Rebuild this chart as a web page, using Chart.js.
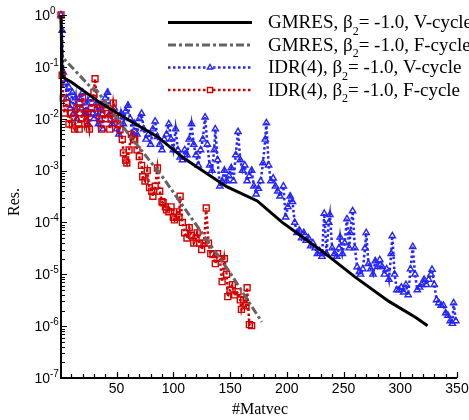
<!DOCTYPE html>
<html lang="en">
<head>
<meta charset="UTF-8">
<title>Residual history</title>
<script src="https://cdn.jsdelivr.net/npm/chart.js"></script>
<style>
  html, body { margin: 0; padding: 0; background: #fff; }
  #wrap { width: 469px; height: 420px; }
</style>
</head>
<body>
<div id="wrap"><canvas id="resChart" width="469" height="420"></canvas></div>
<script>
// legend text parts
const solverNames = ['GMRES', 'GMRES', 'IDR(4)', 'IDR(4)'];
const cycleNames = ['V-cycle', 'F-cycle', 'V-cycle', 'F-cycle'];
const beta2 = '-1.0';

// tick labels
const xTickLabels = [50, 100, 150, 200, 250, 300, 350];
const yTickExps = [0, -1, -2, -3, -4, -5, -6, -7];

// GMRES, V-cycle
const gmresVX = [1, 2, 10, 36, 65, 86, 109, 147, 174, 196, 205, 232, 260, 290, 314, 324];
const gmresVY = [1, 6.4e-2, 5.1e-2, 2.0e-2, 8.3e-3, 4.5e-3, 1.74e-3, 4.9e-4, 2.6e-4, 1.0e-4, 7.2e-5, 2.7e-5, 8.9e-6, 3.0e-6, 1.45e-6, 1.02e-6];

// GMRES, F-cycle
const gmresFX = [1, 2, 27, 33, 60, 90, 120, 150, 178];
const gmresFY = [1, 0.155, 4.1e-2, 3.4e-2, 5.2e-3, 7.8e-4, 9.1e-5, 1.07e-5, 1.2e-6];

// IDR(4), V-cycle
const idrVX = [1, 2, 3, 5, 6, 8, 9, 11, 12, 14, 15, 17, 19, 20, 22, 24, 25, 27, 29, 30,
  32, 34, 36, 38, 40, 42, 44, 46, 48, 50, 52, 54, 56, 58, 60, 62, 64, 66, 68, 70,
  72, 74, 76, 78, 80, 82, 84, 86, 88, 90, 92, 94, 96, 98, 100, 102, 104, 106, 108, 110,
  112, 114, 116, 118, 120, 122, 124, 126, 128, 130, 132, 134, 136, 137, 139, 141, 143, 145, 147, 149,
  151, 153, 155, 157, 159, 161, 163, 165, 167, 169, 171, 173, 175, 177, 179, 181, 182, 184, 186, 188,
  190, 192, 194, 197, 199, 201, 203, 205, 207, 209, 211, 213, 215, 217, 219, 221, 223, 225, 227, 229,
  231, 233, 235, 237, 238, 240, 242, 244, 246, 247, 249, 251, 253, 255, 256, 258, 260, 262, 264, 265,
  267, 269, 270, 272, 274, 276, 278, 280, 282, 284, 286, 288, 290, 292, 293, 295, 297, 299, 301, 303,
  305, 307, 309, 311, 313, 315, 317, 319, 321, 323, 325, 327, 328, 330, 332, 334, 336, 338, 340, 342,
  344, 346, 347, 349];
const idrVY = [1, 0.5, 7.9e-2, 5.0e-2, 2.5e-2, 4.0e-2, 1.6e-2, 3.2e-2, 1.26e-2, 2.5e-2, 1.0e-2, 2.5e-2, 1.6e-2, 3.2e-2, 1.26e-2, 2.0e-2, 7.9e-3, 2.5e-2, 1.26e-2, 1.0e-2,
  2.0e-2, 7.9e-3, 1.6e-2, 6.3e-3, 2.5e-2, 3.2e-2, 1.26e-2, 7.9e-3, 1.6e-2, 6.3e-3, 5.0e-3, 1.26e-2, 7.9e-3, 1.4e-2, 1.8e-2, 1.0e-2, 5.0e-3, 7.9e-3, 5.0e-3, 1.0e-2,
  1.26e-2, 6.3e-3, 4.0e-3, 5.0e-3, 3.2e-3, 6.3e-3, 8.9e-3, 4.5e-3, 3.2e-3, 2.5e-3, 4.0e-3, 5.0e-3, 7.9e-3, 4.0e-3, 2.5e-3, 6.3e-3, 2.5e-3, 1.8e-3, 1.6e-3, 2.5e-3,
  2.0e-3, 4.0e-3, 7.9e-3, 3.2e-3, 2.0e-3, 1.26e-3, 2.5e-3, 4.0e-3, 1.07e-2, 3.2e-3, 1.26e-3, 1.0e-3, 2.5e-3, 6.3e-3, 1.6e-3, 5.0e-4, 6.3e-4, 1.0e-3, 6.3e-4, 7.9e-4,
  1.12e-3, 6.3e-4, 2.0e-3, 5.6e-3, 1.6e-3, 1.0e-3, 1.26e-3, 6.3e-4, 7.9e-4, 1.0e-3, 5.0e-4, 3.5e-4, 4.5e-4, 6.3e-4, 1.4e-3, 4.0e-3, 8.3e-3, 1.26e-3, 6.3e-4, 7.1e-4,
  5.0e-4, 4.0e-4, 3.2e-4, 5.0e-4, 1.26e-4, 2.0e-4, 3.2e-4, 2.5e-4, 1.0e-4, 6.3e-5, 7.1e-5, 5.0e-5, 6.3e-5, 4.5e-5, 5.0e-5, 3.5e-5, 4.0e-5, 3.2e-5, 2.5e-5, 2.8e-5,
  2.2e-5, 1.48e-4, 2.5e-5, 1.0e-4, 1.41e-4, 3.2e-5, 2.5e-5, 2.2e-5, 3.2e-5, 5.2e-5, 2.5e-5, 4.0e-5, 1.17e-4, 3.2e-5, 6.3e-5, 1.66e-4, 3.2e-5, 1.38e-5, 1.12e-5, 1.0e-5,
  1.26e-5, 3.2e-5, 6.3e-5, 1.6e-5, 1.26e-5, 1.0e-5, 1.8e-5, 1.4e-5, 1.9e-5, 1.4e-5, 1.0e-5, 1.26e-5, 7.9e-6, 2.5e-5, 5.5e-5, 1.0e-5, 5.0e-6, 5.0e-6, 5.6e-6, 4.5e-6,
  6.3e-6, 4.0e-6, 1.26e-5, 3.4e-5, 1.0e-5, 5.0e-6, 5.6e-6, 6.3e-6, 7.9e-6, 6.3e-6, 7.9e-6, 1.0e-5, 1.23e-5, 6.3e-6, 3.2e-6, 2.8e-6, 2.5e-6, 2.5e-6, 1.8e-6, 1.6e-6,
  1.26e-6, 1.12e-6, 2.8e-6, 1.26e-6];

// IDR(4), F-cycle
const idrFX = [1, 2, 3, 4, 6, 8, 10, 11, 13, 15, 17, 19, 20, 22, 24, 26, 28, 30, 31, 33,
  35, 37, 38, 40, 42, 44, 46, 47, 49, 51, 53, 55, 56, 58, 59, 61, 63, 65, 66, 68,
  70, 72, 73, 75, 77, 79, 81, 82, 84, 86, 88, 90, 91, 93, 94, 96, 98, 100, 101, 103,
  105, 106, 108, 110, 112, 114, 116, 118, 120, 121, 123, 125, 127, 129, 131, 133, 135, 137, 139, 141,
  143, 145, 147, 148, 150, 152, 154, 157, 159, 160, 162, 164, 165, 167, 169];
const idrFY = [1, 6.9e-2, 2.5e-2, 1.29e-2, 2.0e-2, 7.9e-3, 1.26e-2, 7.6e-3, 6.3e-3, 1.6e-2, 6.3e-3, 1.0e-2, 2.5e-2, 7.9e-3, 1.26e-2, 6.3e-3, 1.6e-2, 3.2e-2, 5.9e-2, 1.6e-2,
  1.0e-2, 6.3e-3, 1.86e-2, 1.0e-2, 1.26e-2, 6.3e-3, 1.26e-2, 2.0e-2, 1.0e-2, 7.9e-3, 6.2e-3, 4.0e-3, 2.2e-3, 1.6e-3, 1.4e-3, 2.5e-3, 5.0e-3, 4.0e-3, 3.9e-3, 2.5e-3,
  1.86e-3, 1.26e-3, 7.6e-4, 6.3e-4, 1.0e-3, 4.7e-4, 4.0e-4, 3.2e-4, 5.0e-4, 1.12e-3, 4.0e-4, 2.5e-4, 2.4e-4, 2.0e-4, 1.74e-4, 1.6e-4, 2.0e-4, 1.26e-4, 1.12e-4, 1.6e-4,
  1.26e-4, 3.2e-4, 1.0e-4, 6.3e-5, 5.0e-5, 7.9e-5, 5.6e-5, 4.0e-5, 5.0e-5, 6.3e-5, 4.0e-5, 3.0e-5, 4.0e-5, 1.9e-4, 4.0e-5, 2.5e-5, 2.4e-5, 1.6e-5, 2.5e-5, 2.0e-5,
  7.2e-6, 2.0e-5, 1.0e-5, 3.7e-6, 5.0e-6, 6.3e-6, 4.0e-6, 4.6e-6, 3.2e-6, 2.1e-6, 3.2e-6, 2.5e-6, 5.5e-6, 1.07e-6, 1.02e-6];

function toPoints(xs, ys) {
  return xs.map((x, i) => ({ x: x, y: ys[i] }));
}

const SERIF = '"Liberation Serif", "Times New Roman", serif';
const SANS = '"Liberation Sans", Arial, sans-serif';

// axes, ticks and labels drawn on the chart scales
const axesPlugin = {
  id: 'axesPlugin',
  afterDraw(chart) {
    const { ctx, chartArea: a, scales: { x, y } } = chart;
    ctx.save();
    ctx.strokeStyle = '#000';
    ctx.fillStyle = '#000';

    // ticks (inside)
    ctx.lineWidth = 1.2;
    ctx.beginPath();
    for (let v = 10; v <= 350; v += 10) {
      const px = Math.round(x.getPixelForValue(v)) + 0.5;
      const len = v % 50 === 0 ? 6 : 4;
      ctx.moveTo(px, a.bottom);
      ctx.lineTo(px, a.bottom - len);
    }
    for (let d = -7; d <= 0; d++) {
      const py = Math.round(y.getPixelForValue(Math.pow(10, d))) + 0.5;
      ctx.moveTo(a.left, py);
      ctx.lineTo(a.left + 6, py);
      if (d < 0) {
        for (let m = 2; m <= 9; m++) {
          const pm = Math.round(y.getPixelForValue(m * Math.pow(10, d))) + 0.5;
          ctx.moveTo(a.left, pm);
          ctx.lineTo(a.left + 4, pm);
        }
      }
    }
    ctx.stroke();

    // axis lines
    ctx.lineWidth = 2;
    ctx.beginPath();
    ctx.moveTo(a.left, a.top);
    ctx.lineTo(a.left, a.bottom);
    ctx.lineTo(a.right, a.bottom);
    ctx.stroke();

    // x tick labels
    ctx.font = '14px ' + SANS;
    ctx.textAlign = 'center';
    ctx.textBaseline = 'middle';
    xTickLabels.forEach(v => {
      ctx.fillText(String(v), x.getPixelForValue(v), a.bottom + 11);
    });

    // y tick labels 10^n
    yTickExps.forEach(e => {
      const py = y.getPixelForValue(Math.pow(10, e));
      ctx.font = '14px ' + SANS;
      ctx.textAlign = 'right';
      ctx.fillText('10', a.left - 11, py + 1);
      ctx.font = '10px ' + SANS;
      ctx.textAlign = 'left';
      ctx.fillText(e === 0 ? '0' : '-' + Math.abs(e), a.left - 11, py - 4);
    });

    // axis titles
    ctx.font = '16px ' + SERIF;
    ctx.textAlign = 'center';
    ctx.fillText('#Matvec', (a.left + a.right) / 2 + 1, 410);
    ctx.translate(15, 202);
    ctx.rotate(-Math.PI / 2);
    ctx.fillText('Res.', 0, 0);
    ctx.restore();
  }
};

// legend in the upper right, drawn from the dataset styles
const legendPlugin = {
  id: 'legendPlugin',
  afterDatasetsDraw(chart) {
    const ctx = chart.ctx;
    const rows = [22.5, 45, 67.5, 90];
    const x0 = 168, x1 = 252, tx = 268;
    ctx.save();
    chart.data.datasets.forEach((ds, i) => {
      const yy = rows[i];
      ctx.strokeStyle = ds.borderColor;
      ctx.lineWidth = ds.borderWidth;
      ctx.setLineDash(ds.borderDash || []);
      ctx.beginPath();
      ctx.moveTo(x0, yy);
      ctx.lineTo(x1, yy);
      ctx.stroke();
      ctx.setLineDash([]);
      if (ds.pointRadius > 0) {
        ctx.strokeStyle = ds.pointBorderColor;
        ctx.lineWidth = ds.pointBorderWidth;
        ctx.fillStyle = '#fff';
        Chart.helpers.drawPoint(ctx, {
          pointStyle: ds.pointStyle,
          radius: ds.pointRadius - 0.6,
          borderWidth: ds.pointBorderWidth
        }, (x0 + x1) / 2, yy);
      }
      ctx.fillStyle = '#000';
      ctx.textBaseline = 'middle';
      ctx.textAlign = 'left';
      let cx = tx;
      const head = solverNames[i] + ', \u03b2';
      ctx.font = '19px ' + SERIF;
      ctx.fillText(head, cx, yy + 1);
      cx += ctx.measureText(head).width;
      ctx.font = '12px ' + SERIF;
      ctx.fillText('2', cx, yy + 9);
      cx += ctx.measureText('2').width;
      ctx.font = '19px ' + SERIF;
      ctx.fillText('= ' + beta2 + ', ' + cycleNames[i], cx, yy + 1);
    });
    ctx.restore();
  }
};

new Chart(document.getElementById('resChart'), {
  type: 'line',
  data: {
    datasets: [
      {
        data: toPoints(gmresVX, gmresVY),
        borderColor: '#000',
        borderWidth: 3,
        pointRadius: 0,
        order: 0
      },
      {
        data: toPoints(gmresFX, gmresFY),
        borderColor: '#646464',
        borderWidth: 3,
        borderDash: [8, 3, 3, 3],
        pointRadius: 0,
        order: 1
      },
      {
        data: toPoints(idrVX, idrVY),
        borderColor: '#2424ff',
        borderWidth: 2.5,
        borderDash: [2.5, 2.5],
        pointStyle: 'triangle',
        pointRadius: 3.6,
        pointBorderWidth: 1.4,
        pointBorderColor: '#2424ff',
        pointBackgroundColor: 'rgba(0,0,0,0)',
        order: 3
      },
      {
        data: toPoints(idrFX, idrFY),
        borderColor: '#d20000',
        borderWidth: 2.5,
        borderDash: [2.5, 2.5],
        pointStyle: 'rect',
        pointRadius: 4.2,
        pointBorderWidth: 1.4,
        pointBorderColor: '#d20000',
        pointBackgroundColor: 'rgba(0,0,0,0)',
        order: 2
      }
    ]
  },
  options: {
    responsive: false,
    animation: false,
    clip: false,
    layout: { padding: { left: 61, top: 15, right: 12, bottom: 42 } },
    elements: { line: { tension: 0 } },
    scales: {
      x: { type: 'linear', min: 1, max: 350, display: false },
      y: { type: 'logarithmic', min: 1e-7, max: 1, display: false }
    },
    plugins: {
      legend: { display: false },
      tooltip: { enabled: false }
    }
  },
  plugins: [legendPlugin, axesPlugin]
});
</script>
</body>
</html>
